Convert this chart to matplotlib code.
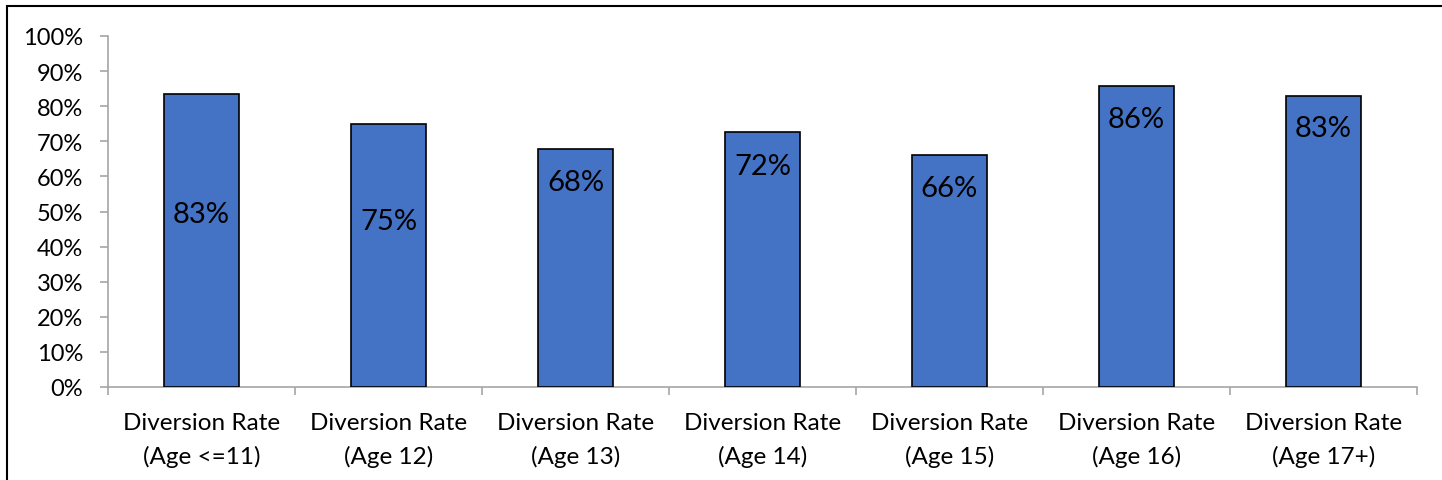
import matplotlib
matplotlib.use("Agg")
import matplotlib.pyplot as plt
from matplotlib.patches import Rectangle
from matplotlib.ticker import PercentFormatter, FixedLocator

categories = ["Diversion Rate\n(Age <=11)", "Diversion Rate\n(Age 12)", "Diversion Rate\n(Age 13)",
              "Diversion Rate\n(Age 14)", "Diversion Rate\n(Age 15)", "Diversion Rate\n(Age 16)",
              "Diversion Rate\n(Age 17+)"]
values = [0.835, 0.749, 0.678, 0.726, 0.661, 0.858, 0.829]
value_labels = ["83%", "75%", "68%", "72%", "66%", "86%", "83%"]
label_y = [0.493, 0.473, 0.584, 0.630, 0.567, 0.764, 0.738]

W, H = 1442, 481
fig = plt.figure(figsize=(W / 100, H / 100), dpi=100)
plt.rcParams['font.family'] = ['Lato', 'DejaVu Sans']

ax = fig.add_axes([108 / W, (H - 388) / H, (1417 - 108) / W, (388 - 37) / H])
x = list(range(len(categories)))
ax.bar(x, values, width=0.4, color="#4472C4", edgecolor="black", linewidth=1.2, zorder=3)
for xi, lab, ly in zip(x, value_labels, label_y):
    ax.text(xi, ly, lab, ha="center", va="center", fontsize=21, color="black", zorder=4)

ax.set_xlim(-0.5, len(categories) - 0.5)
ax.set_ylim(0, 1.0)
ax.yaxis.set_major_locator(FixedLocator([i / 10 for i in range(11)]))
ax.yaxis.set_major_formatter(PercentFormatter(1.0, decimals=0))

ax.xaxis.set_major_locator(FixedLocator([i - 0.5 for i in range(len(categories) + 1)]))
ax.xaxis.set_major_formatter(plt.NullFormatter())
ax.set_xticks(x, minor=True)
ax.set_xticklabels(categories, minor=True, fontsize=17.5, linespacing=1.65)
ax.tick_params(axis="x", which="minor", length=0, pad=18)
ax.tick_params(axis="x", which="major", length=5.5, width=1.2, color="#A6A6A6", direction="out")
ax.tick_params(axis="y", length=6, width=1.2, color="#A6A6A6", labelsize=17, pad=12)

for s in ["top", "right"]:
    ax.spines[s].set_visible(False)
for s in ["left", "bottom"]:
    ax.spines[s].set_color("#A6A6A6")
    ax.spines[s].set_linewidth(1.2)

fig.patches.append(Rectangle((7 / W, -0.1), 1.2, (H - 7) / H + 0.1, transform=fig.transFigure,
                             fill=False, edgecolor="black", linewidth=1.5))

fig.savefig("out.png", dpi=100)
